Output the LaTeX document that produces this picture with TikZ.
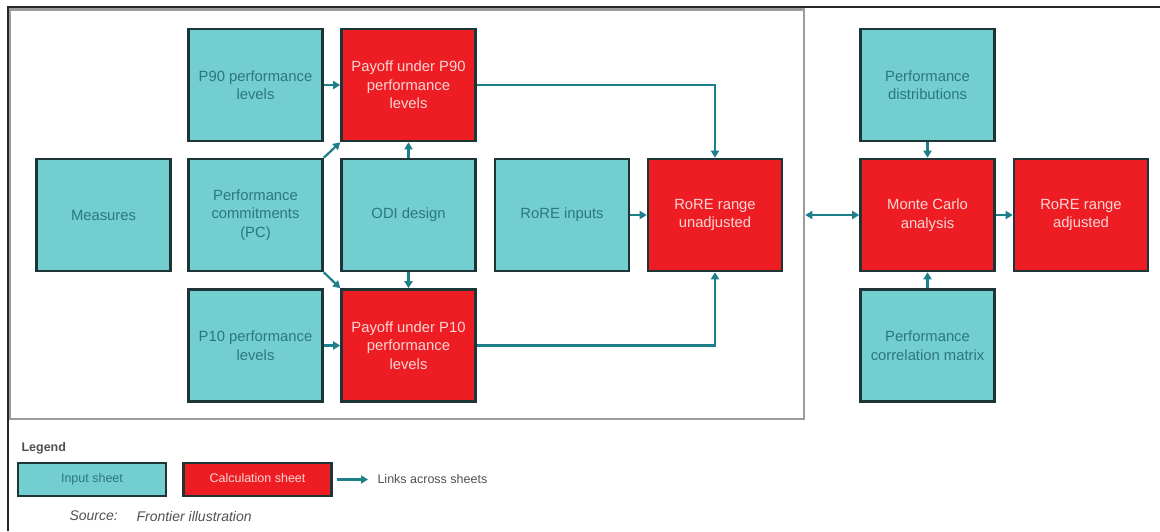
\documentclass[tikz,border=0pt]{standalone}
\usepackage{fontspec}
\setmainfont{Liberation Sans}
\usetikzlibrary{arrows.meta}
\definecolor{tealfill}{HTML}{73CECF}
\definecolor{redfill}{HTML}{EE1D23}
\definecolor{boxline}{HTML}{1E3538}
\definecolor{tealtext}{HTML}{2B7780}
\definecolor{redtext}{HTML}{FAD6D4}
\definecolor{linkcol}{HTML}{1C7F89}
\definecolor{framegray}{HTML}{9C9C9C}
\definecolor{legtext}{HTML}{505050}
\tikzset{
  inbox/.style={draw=boxline, line width=2.6pt, fill=tealfill, text=tealtext,
    minimum width=134pt, minimum height=112pt, inner sep=2pt, align=center,
    font=\fontsize{14.8}{18.5}\selectfont},
  calcbox/.style={inbox, fill=redfill, text=redtext},
  link/.style={draw=linkcol, line width=2.2pt, -{Triangle[length=7pt,width=8pt]}},
  dlink/.style={draw=linkcol, line width=2.2pt, {Triangle[length=7pt,width=8pt]}-{Triangle[length=7pt,width=8pt]}},
  legbox/.style={draw=boxline, line width=2.2pt, minimum width=148pt, minimum height=33pt,
    inner sep=1pt, text height=9pt, text depth=2.5pt, font=\fontsize{12.5}{15}\selectfont},
}
\begin{document}
\begin{tikzpicture}[x=1pt,y=-1pt]
\useasboundingbox (0,0) rectangle (1160,531);
% frames
\draw[framegray, line width=2.5pt] (9.5,9.5) rectangle (804,419);
\draw[black!85, line width=2pt] (7.5,531) -- (7.5,6.5) -- (1160,6.5);
% nodes
\node[inbox] (p90) at (255.5,85) {P90 performance\\levels};
\node[calcbox] (pay90) at (408.5,85) {Payoff under P90\\performance\\levels};
\node[inbox] (meas) at (103.5,215) {Measures};
\node[inbox] (pc) at (255.5,215) {Performance\\commitments\\(PC)};
\node[inbox] (odi) at (408.5,215) {ODI design};
\node[inbox] (rinp) at (562,215) {RoRE inputs};
\node[calcbox] (runadj) at (715,215) {RoRE range\\unadjusted};
\node[inbox] (p10) at (255.5,345.5) {P10 performance\\levels};
\node[calcbox] (pay10) at (408.5,345.5) {Payoff under P10\\performance\\levels};
\node[inbox] (pdist) at (927.5,85) {Performance\\distributions};
\node[calcbox] (mc) at (927.5,215) {Monte Carlo\\analysis};
\node[calcbox] (radj) at (1081,215) {RoRE range\\adjusted};
\node[inbox] (pcorr) at (927.5,345.5) {Performance\\correlation matrix};
% connectors
\draw[link] (p90) -- (pay90);
\draw[link] (p10) -- (pay10);
\draw[link] (pc.north east) -- (pay90.south west);
\draw[link] (pc.south east) -- (pay10.north west);
\draw[link] (odi) -- (pay90);
\draw[link] (odi) -- (pay10);
\draw[link] (pay90.east) -| (runadj.north);
\draw[link] (pay10.east) -| (runadj.south);
\draw[link] (rinp) -- (runadj);
\draw[dlink, shorten <=22pt] (runadj) -- (mc);
\draw[link] (pdist) -- (mc);
\draw[link] (pcorr) -- (mc);
\draw[link] (mc) -- (radj);
% legend
\node[anchor=west, text=legtext, font=\bfseries\fontsize{12.5}{15}\selectfont] (leg) at (18,448) {Legend};
\node[legbox, fill=tealfill, text=tealtext] (lin) at (92,479.5) {Input sheet};
\node[legbox, fill=redfill, text=redtext] (lcalc) at (257.5,479.5) {Calculation sheet};
\coordinate (lend) at (368,479.5);
\draw[link, shorten <=4pt] (lcalc.east) -- (lend);
\node[anchor=west, text=legtext, font=\fontsize{12.5}{15}\selectfont] (ltxt) at (374,479.5) {Links across sheets};
\node[anchor=west, text=legtext, font=\itshape\fontsize{14}{17}\selectfont] (src) at (66,516) {Source:};
\node[anchor=west, text=legtext, font=\itshape\fontsize{14}{17}\selectfont] (srct) at (133,516) {Frontier illustration};
\end{tikzpicture}
\end{document}
